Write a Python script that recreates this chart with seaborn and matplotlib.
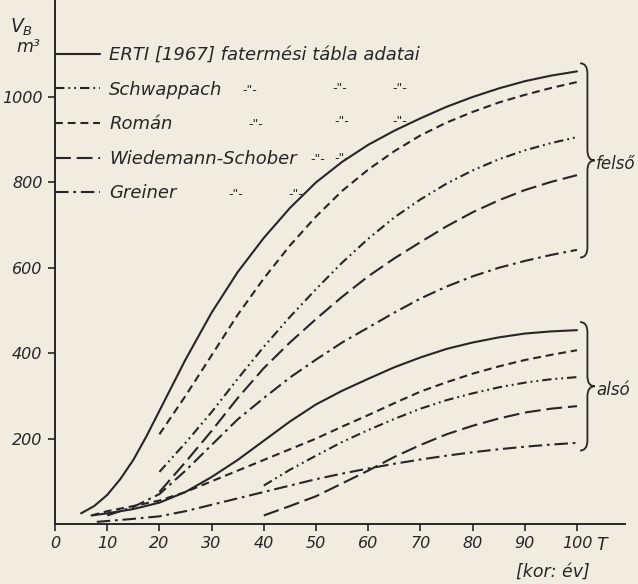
import numpy as np
import pandas as pd
import seaborn as sns
import matplotlib
matplotlib.use("Agg")
import matplotlib.pyplot as plt
from matplotlib.lines import Line2D
from matplotlib.path import Path
from matplotlib.patches import PathPatch

# ------------------------------------------------------------------
# data (kor = age [year], V = volume [m3])
# ------------------------------------------------------------------
forrasok = ["ERTI", "Schwappach", "Román", "Wiedemann-Schober", "Greiner"]

# felső (upper) curves
kor_erti_f = [5, 7.5, 10, 12.5, 15, 17.5, 20, 25, 30, 35, 40, 45, 50, 55, 60, 65, 70, 75, 80, 85, 90, 95, 100]
v_erti_f = [25, 42, 68, 105, 150, 205, 265, 385, 495, 590, 670, 740, 800, 848, 888, 921, 950, 977, 1000, 1020, 1037, 1050, 1060]
kor_schw_f = [20, 25, 30, 35, 40, 45, 50, 55, 60, 65, 70, 75, 80, 85, 90, 95, 100]
v_schw_f = [122, 190, 262, 340, 415, 485, 550, 612, 668, 718, 760, 797, 828, 854, 875, 892, 906]
kor_roman_f = [20, 25, 30, 35, 40, 45, 50, 55, 60, 65, 70, 75, 80, 85, 90, 95, 100]
v_roman_f = [210, 300, 395, 490, 575, 652, 720, 780, 830, 873, 910, 940, 965, 987, 1005, 1021, 1035]
kor_wied_f = [20, 25, 30, 35, 40, 45, 50, 55, 60, 65, 70, 75, 80, 85, 90, 95, 100]
v_wied_f = [75, 145, 218, 295, 365, 425, 480, 532, 580, 622, 660, 697, 730, 758, 782, 801, 817]
kor_grei_f = [10, 15, 20, 25, 30, 35, 40, 45, 50, 55, 60, 65, 70, 75, 80, 85, 90, 95, 100]
v_grei_f = [20, 40, 70, 125, 185, 245, 295, 343, 385, 425, 460, 495, 528, 556, 580, 600, 616, 630, 642]

# alsó (lower) curves
kor_erti_a = [7, 10, 15, 20, 25, 30, 35, 40, 45, 50, 55, 60, 65, 70, 75, 80, 85, 90, 95, 100]
v_erti_a = [20, 25, 35, 50, 75, 110, 150, 195, 240, 280, 312, 340, 367, 390, 410, 425, 437, 446, 451, 454]
kor_schw_a = [40, 45, 50, 55, 60, 65, 70, 75, 80, 85, 90, 95, 100]
v_schw_a = [90, 127, 160, 192, 220, 246, 270, 290, 306, 320, 331, 339, 344]
kor_roman_a = [7, 10, 15, 20, 25, 30, 35, 40, 45, 50, 55, 60, 65, 70, 75, 80, 85, 90, 95, 100]
v_roman_a = [20, 30, 42, 55, 75, 100, 125, 150, 175, 200, 228, 255, 283, 310, 332, 352, 369, 384, 396, 407]
kor_wied_a = [40, 45, 50, 55, 60, 65, 70, 75, 80, 85, 90, 95, 100]
v_wied_a = [20, 42, 65, 95, 125, 157, 185, 210, 230, 247, 261, 270, 276]
kor_grei_a = [8, 15, 20, 25, 30, 35, 40, 45, 50, 55, 60, 65, 70, 75, 80, 85, 90, 95, 100]
v_grei_a = [5, 12, 18, 30, 45, 60, 75, 90, 105, 118, 130, 141, 151, 160, 168, 175, 181, 186, 190]

gorbek = [
    ("ERTI", "felső", kor_erti_f, v_erti_f),
    ("Schwappach", "felső", kor_schw_f, v_schw_f),
    ("Román", "felső", kor_roman_f, v_roman_f),
    ("Wiedemann-Schober", "felső", kor_wied_f, v_wied_f),
    ("Greiner", "felső", kor_grei_f, v_grei_f),
    ("ERTI", "alsó", kor_erti_a, v_erti_a),
    ("Schwappach", "alsó", kor_schw_a, v_schw_a),
    ("Román", "alsó", kor_roman_a, v_roman_a),
    ("Wiedemann-Schober", "alsó", kor_wied_a, v_wied_a),
    ("Greiner", "alsó", kor_grei_a, v_grei_a),
]

rows = []
for forras, csoport, kor, v in gorbek:
    for k, vv in zip(kor, v):
        rows.append({"forras": forras, "csoport": csoport,
                     "gorbe": forras + "_" + csoport, "kor": k, "V": vv})
df = pd.DataFrame(rows)

# ------------------------------------------------------------------
# style
# ------------------------------------------------------------------
ink = "#262626"
paper = "#f0ece0"
lw = 1.5
dash_map = {
    "ERTI": "",
    "Schwappach": (4.5, 1.9, 0.9, 1.9, 0.9, 1.9),
    "Román": (3.8, 2.3),
    "Wiedemann-Schober": (7.6, 2.8),
    "Greiner": (6.5, 2.3, 1.3, 2.3),
}

sns.set_style("ticks")
plt.rcParams["font.family"] = ["DejaVu Sans"]
plt.rcParams["font.style"] = "italic"
plt.rcParams["mathtext.fontset"] = "dejavusans"

W, H = 638, 584
fig = plt.figure(figsize=(W / 100, H / 100), dpi=100, facecolor=paper)
ax = fig.add_axes([55 / W, 1 - 524 / H, (625 - 55) / W, (524 - 1) / H])
ax.set_facecolor(paper)

sns.lineplot(data=df, x="kor", y="V", style="forras", units="gorbe",
             estimator=None, dashes=dash_map, style_order=forrasok,
             color=ink, lw=lw, legend=False, ax=ax)

ax.set_xlim(0, 109.2)
ax.set_ylim(0, 523 / 0.427)
ax.set_xticks(np.arange(0, 101, 10))
ax.set_yticks([200, 400, 600, 800, 1000])
ax.set_xlabel("")
ax.set_ylabel("")
ax.tick_params(direction="out", length=5, width=1.2, color=ink,
               labelcolor=ink, labelsize=11.5, pad=4)
for s in ["top", "right"]:
    ax.spines[s].set_visible(False)
for s in ["left", "bottom"]:
    ax.spines[s].set_linewidth(1.4)
    ax.spines[s].set_color(ink)


# curly braces grouping the curve ends
def brace(ax, x, y_lo, y_hi, w=2.8, r=24):
    xm = x + w * 0.5
    ym = (y_lo + y_hi) / 2
    verts = [(x, y_hi), (xm, y_hi), (xm, y_hi - r), (xm, ym + r),
             (xm, ym), (x + w, ym),
             (xm, ym), (xm, ym - r), (xm, y_lo + r),
             (xm, y_lo), (x, y_lo)]
    codes = [Path.MOVETO, Path.CURVE3, Path.CURVE3, Path.LINETO,
             Path.CURVE3, Path.CURVE3,
             Path.CURVE3, Path.CURVE3, Path.LINETO,
             Path.CURVE3, Path.CURVE3]
    ax.add_patch(PathPatch(Path(verts, codes), fill=False, ec=ink,
                           lw=1.3, clip_on=False))
    return ym


for csoport in ["felső", "alsó"]:
    ends = df[(df["csoport"] == csoport) & (df["kor"] == df["kor"].max())]["V"]
    ym = brace(ax, 100.6, ends.min() - 18, ends.max() + 19)
    ax.text(103.7, ym - 8, csoport, fontsize=12, color=ink, va="center",
            ha="left", clip_on=False)

# legend
handles = [Line2D([], [], color=ink, lw=lw,
                  linestyle="-" if dash_map[f] == "" else (0, dash_map[f]))
           for f in forrasok]
labels = ["ERTI [1967] fatermési tábla adatai", "Schwappach", "Román",
          "Wiedemann-Schober", "Greiner"]
leg = ax.legend(handles, labels, loc="upper left",
                bbox_to_anchor=(55 / W, 1 - 46 / H),
                bbox_transform=fig.transFigure, frameon=False,
                fontsize=13, handlelength=2.5, handletextpad=0.5,
                labelspacing=0.92, borderpad=0, borderaxespad=0)
for t in leg.get_texts():
    t.set_color(ink)

# ditto marks
ditto = [(250, 90), (340, 88), (400, 88),
         (256, 124), (342, 121), (400, 121),
         (318, 159), (342, 158),
         (236, 194), (296, 194)]
for x, y in ditto:
    fig.text(x / W, 1 - y / H, '-"-', fontsize=9, color=ink,
             ha="center", va="center")

# axis captions
fig.text(22 / W, 1 - 27 / H, r"$V_B$", fontsize=13.5, color=ink,
         ha="center", va="center")
fig.text(28 / W, 1 - 47 / H, "m³", fontsize=12.5, color=ink,
         ha="center", va="center")
fig.text(602 / W, 1 - 545 / H, "T", fontsize=12.5, color=ink,
         ha="center", va="center")
fig.text(553 / W, 1 - 572 / H, "[kor: év]", fontsize=12.5, color=ink,
         ha="center", va="center")

fig.savefig("out.png", dpi=100, facecolor=paper)
